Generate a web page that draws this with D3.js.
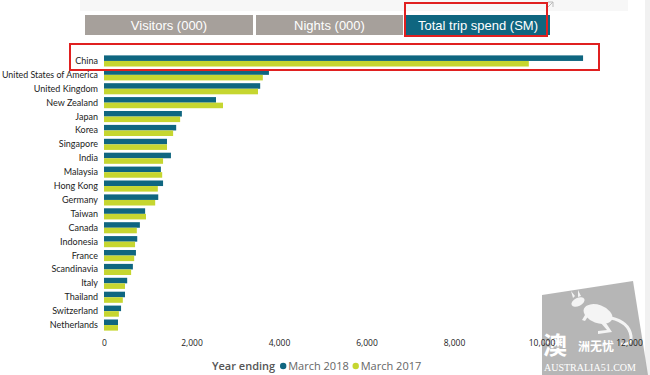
<!DOCTYPE html>
<html>
<head>
<meta charset="utf-8">
<script src="https://cdn.jsdelivr.net/npm/d3@7"></script>
<style>
  body { margin: 0; background: #fff; }
  svg { display: block; font-family: "Open Sans", sans-serif; }
</style>
</head>
<body>
<div id="chart"></div>
<script>
// data, spend in $M
const countries = ["China", "United States of America", "United Kingdom", "New Zealand", "Japan",
  "Korea", "Singapore", "India", "Malaysia", "Hong Kong", "Germany", "Taiwan", "Canada",
  "Indonesia", "France", "Scandinavia", "Italy", "Thailand", "Switzerland", "Netherlands"];
const march2018 = [10950, 3770, 3570, 2560, 1780, 1650, 1440, 1530, 1300, 1350, 1240, 940, 820,
  760, 730, 660, 530, 480, 390, 320];
const march2017 = [9710, 3630, 3520, 2720, 1740, 1580, 1440, 1350, 1330, 1230, 1170, 960, 750,
  710, 690, 620, 480, 430, 340, 320];
const seriesNames = ["March 2018", "March 2017"];
const tabs = ["Visitors (000)", "Nights (000)", "Total trip spend (SM)"];
const xTicks = [0, 2000, 4000, 6000, 8000, 10000, 12000];

function drawChart() {
    const width = 650, height = 375;
    const colors = ["#0f6680", "#c6d630"];

    const svg = d3.select("#chart").append("svg")
        .attr("width", width)
        .attr("height", height);

    // faint panel at top + right edge strip
    svg.append("rect").attr("x", 80).attr("y", 0).attr("width", 548).attr("height", 11).attr("fill", "#f7f7f7");
    svg.append("rect").attr("x", 645).attr("y", 0).attr("width", 5).attr("height", height).attr("fill", "#f1f1f1");

    // tab buttons
    const tabEdges = [85, 256, 406, 553];
    const tab = svg.selectAll(".tab").data(tabs).enter().append("g").attr("class", "tab");
    tab.append("rect")
        .attr("x", (d, i) => tabEdges[i]).attr("y", 15)
        .attr("width", (d, i) => tabEdges[i + 1] - tabEdges[i] - 3).attr("height", 20)
        .attr("fill", (d, i) => i === 2 ? "#0f6680" : "#a6a09b");
    tab.append("text")
        .attr("x", (d, i) => (tabEdges[i] + tabEdges[i + 1] - 3) / 2).attr("y", 29.5)
        .attr("text-anchor", "middle")
        .attr("fill", "#fff")
        .attr("font-family", "Liberation Sans Narrow, Arial Narrow, sans-serif")
        .style("font-size", "13px")
        .text(d => d);

    const x = d3.scaleLinear().domain([0, 12000]).range([104, 629]);
    const y = d3.scaleBand().domain(countries).range([54, 332]).paddingInner(0.2).paddingOuter(0.1);
    const ySub = d3.scaleBand().domain(seriesNames).range([0, y.bandwidth()]);

    const rows = svg.selectAll(".row").data(countries).enter().append("g")
        .attr("class", "row")
        .attr("transform", d => `translate(0,${y(d)})`);

    rows.selectAll("rect")
        .data((d, i) => [march2018[i], march2017[i]])
        .enter().append("rect")
        .attr("x", x(0))
        .attr("y", (d, j) => ySub(seriesNames[j]))
        .attr("width", d => x(d) - x(0))
        .attr("height", ySub.bandwidth())
        .attr("fill", (d, j) => colors[j]);

    // category labels
    rows.append("text")
        .attr("x", 98).attr("y", y.bandwidth() / 2 + 3)
        .attr("text-anchor", "end")
        .attr("font-family", "Lato, sans-serif")
        .attr("font-size", 9).attr("fill", "#222")
        .text(d => d)
        .each(function () {
            // squeeze any label that would run off the left edge
            const w = this.getComputedTextLength();
            if (w > 96) d3.select(this).attr("textLength", 96).attr("lengthAdjust", "spacingAndGlyphs");
        });

    // watermark (drawn under the tick labels, as in the reference)
    const wm = svg.append("g");
    wm.append("path").attr("d", "M542,295 L633,281 L648,375 L542,375 Z").attr("fill", "#a9a9a9").attr("opacity", 0.85);
    const roo = wm.append("g").attr("fill", "#f4f4f4");
    roo.append("ellipse").attr("cx", 598).attr("cy", 314).attr("rx", 15).attr("ry", 9).attr("transform", "rotate(20,598,314)");
    roo.append("ellipse").attr("cx", 578).attr("cy", 302).attr("rx", 7).attr("ry", 4).attr("transform", "rotate(-25,578,302)");
    roo.append("path").attr("d", "M573,298 l-2,-7 l4,5 z M578,297 l0,-7 l3,6 z");
    roo.append("path").attr("d", "M588,310 l-6,10 l3,1 l6,-9 z");
    roo.append("path").attr("d", "M604,320 l8,12 l-14,2 l0,-3 l9,-1 l-7,-8 z");
    roo.append("path").attr("d", "M611,318 q18,4 20,18 q1,10 -10,8")
        .attr("fill", "none").attr("stroke", "#f4f4f4").attr("stroke-width", 3);
    wm.append("text").attr("x", 543).attr("y", 354).attr("font-size", 24).attr("font-weight", 700)
        .attr("fill", "#fff").attr("font-family", "Noto Sans CJK SC").text("澳");
    wm.append("text").attr("x", 578).attr("y", 351).attr("font-size", 12).attr("font-weight", 700)
        .attr("fill", "#fff").attr("font-family", "Noto Sans CJK SC").text("洲无忧");
    wm.append("text").attr("x", 544).attr("y", 371).attr("font-size", 10)
        .attr("fill", "#fff").attr("font-family", "Liberation Serif, serif").text("AUSTRALIA51.COM");

    // x axis labels, no line
    const xAxis = svg.append("g")
        .attr("transform", "translate(0,337)")
        .call(d3.axisBottom(x).tickValues(xTicks).tickFormat(d3.format(",")).tickSize(0));
    xAxis.select(".domain").remove();
    xAxis.selectAll("text").attr("font-size", 8.5).attr("fill", "#222").attr("font-family", "Open Sans, sans-serif");

    // legend
    const legend = svg.append("g").attr("transform", "translate(212,370)").attr("font-size", 11);
    const title = legend.append("text").attr("x", 0).attr("y", 0).attr("fill", "#555")
        .attr("font-weight", 600).text("Year ending");
    let lx = title.node().getComputedTextLength() + 8;
    seriesNames.forEach((s, i) => {
        legend.append("circle").attr("cx", lx).attr("cy", -4).attr("r", 3.2).attr("fill", colors[i]);
        const t = legend.append("text").attr("x", lx + 5).attr("y", 0).attr("fill", "#666").text(s);
        lx += 5 + t.node().getComputedTextLength() + 7;
    });

    // red highlight boxes
    svg.append("rect").attr("x", 405).attr("y", 3).attr("width", 142).attr("height", 33)
        .attr("fill", "none").attr("stroke", "#e02020").attr("stroke-width", 2);
    svg.append("rect").attr("x", 70).attr("y", 44).attr("width", 529).attr("height", 26)
        .attr("fill", "none").attr("stroke", "#e02020").attr("stroke-width", 2);

    // small expand icon
    svg.append("path").attr("d", "M548,2 l5,0 l0,5 M548,7 l5,-5")
        .attr("fill", "none").attr("stroke", "#bbb").attr("stroke-width", 1);
}

drawChart();
</script>
</body>
</html>
